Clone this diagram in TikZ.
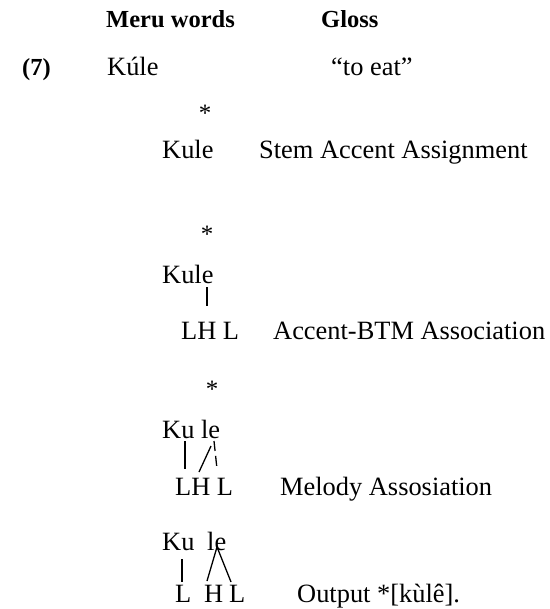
\documentclass[tikz,border=0pt]{standalone}
\usepackage{fontspec}
\setmainfont{Liberation Serif}
\begin{document}
\begin{tikzpicture}[x=1pt,y=-1pt,
  txt/.style={inner sep=0pt,anchor=base west,font=\fontsize{26.4}{30}\selectfont},
  hd/.style={txt,font=\fontsize{24.5}{30}\selectfont\bfseries},
  star/.style={inner sep=0pt,anchor=base,font=\fontsize{25}{30}\selectfont},
  assoc/.style={line width=1.3pt},
  brk/.style={line width=1.3pt,dash pattern=on 10pt off 5pt}]
\useasboundingbox (0,0) rectangle (549,609);
% header
\node[hd] (hmeru) at (106,28) {Meru words};
\node[hd] (hgloss) at (321,28) {Gloss};
\node[hd] (ex) at (22,76) {(7)};
\node[txt] (word) at (107,76) {Kúle};
\node[txt] (gloss) at (331,76) {“to eat”};
% step 1
\node[star] (s1) at (205,122) {*};
\node[txt] (k1) at (162,159) {Kule};
\node[txt] (r1) at (259,159) {Stem Accent Assignment};
% step 2
\node[star] (s2) at (207,243) {*};
\node[txt] (k2) at (162,283) {Kule};
\node[txt] (t2) at (181,339) {LH L};
\node[txt] (r2) at (273,339) {Accent-BTM Association};
\coordinate (a2t) at (207,287);
\coordinate (a2b) at (207,306);
\draw[assoc] (a2t) -- (a2b);
% step 3
\node[star] (s3) at (212,397) {*};
\node[txt] (k3) at (162,438) {Ku le};
\node[txt] (t3) at (175,495) {LH L};
\node[txt] (r3) at (280,495) {Melody Assosiation};
\coordinate (b1t) at (185,441);
\coordinate (b1b) at (185,469);
\coordinate (b2t) at (211,446);
\coordinate (b2b) at (199,472);
\coordinate (b3t) at (214,441);
\coordinate (b3b) at (217,469);
\draw[assoc] (b1t) -- (b1b);
\draw[assoc] (b2t) -- (b2b);
\draw[brk] (b3t) -- (b3b);
% step 4
\node[txt] (ku4) at (162,550) {Ku};
\node[txt] (le4) at (207,550) {le};
\node[txt] (l4a) at (175,602) {L};
\node[txt] (h4) at (204,602) {H};
\node[txt] (l4b) at (229,602) {L};
\node[txt] (r4) at (297,602) {Output *[kùlê].};
\coordinate (c1t) at (182,559);
\coordinate (c1b) at (182,582);
\coordinate (cap) at (217,547);
\coordinate (c2b) at (207,581);
\coordinate (c3b) at (231,582);
\draw[assoc] (c1t) -- (c1b);
\draw[assoc] (c2b) -- (cap) -- (c3b);
\end{tikzpicture}
\end{document}
